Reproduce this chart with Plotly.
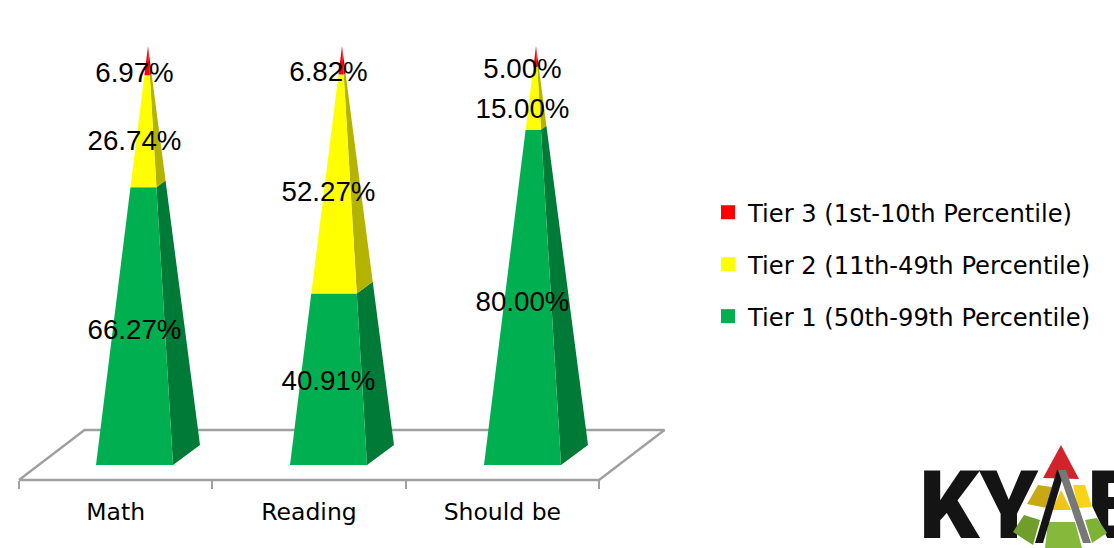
import plotly.graph_objects as go

# Chart values (percent of students per tier)
categories = ["Math", "Reading", "Should be"]
tier1 = [66.27, 40.91, 80.00]
tier2 = [26.74, 52.27, 15.00]
tier3 = [6.97, 6.82, 5.00]
tier_names = ["Tier 1 (50th-99th Percentile)", "Tier 2 (11th-49th Percentile)", "Tier 3 (1st-10th Percentile)"]
front_colors = ["#00B050", "#FFFF00", "#FF0000"]
side_colors = ["#007A37", "#B3B300", "#B30000"]

W, H = 1114, 548
AXIS_LEFT, AXIS_RIGHT = 19, 599     # pixel span of the category axis
AXIS_Y = 480                        # pixel row of the axis line
BASE_Y = 465                        # pixel row of the 0% level
PLOT_LEFT, PLOT_RIGHT, PLOT_BOTTOM = 10, 680, 490   # clip area, roomy enough for the floor
PX_PER_PCT = 4.19
PX_PER_CAT = (AXIS_RIGHT - AXIS_LEFT) / len(categories)


def px_x(p):
    return p / PX_PER_CAT


def px_y(p):
    return p / PX_PER_PCT


# Oblique projection of the square-based pyramids and the floor
face_width = px_x(77)
first_face = px_x(77)
face_step = px_x(194)
depth_x, depth_y = px_x(27), px_y(20)
floor_dx, floor_dy = px_x(65.5), px_y(50)
floor_front = px_y(BASE_Y - AXIS_Y)


def edge(a, b, t):
    return (a[0] + (b[0] - a[0]) * t, a[1] + (b[1] - a[1]) * t)


front_x, front_y, side_x, side_y = [[], [], []], [[], [], []], [[], [], []], [[], [], []]
label_x, label_y, label_text = [], [], []

for i in range(len(categories)):
    left = first_face + i * face_step
    right = left + face_width
    centre = (left + right) / 2
    fl, fr = (left, 0.0), (right, 0.0)
    br = (right + depth_x, depth_y)
    apex = (centre + depth_x / 2, 100.0)
    low = 0.0
    for k, series in enumerate([tier1, tier2, tier3]):
        value = series[i]
        high = low + value
        t0, t1 = low / 100, high / 100
        pts = [edge(fl, apex, t0), edge(fr, apex, t0), edge(fr, apex, t1), edge(fl, apex, t1), edge(fl, apex, t0)]
        front_x[k] += [p[0] for p in pts] + [None]
        front_y[k] += [p[1] for p in pts] + [None]
        pts = [edge(fr, apex, t0), edge(br, apex, t0), edge(br, apex, t1), edge(fr, apex, t1), edge(fr, apex, t0)]
        side_x[k] += [p[0] for p in pts] + [None]
        side_y[k] += [p[1] for p in pts] + [None]
        # Labels sit near the middle of each band, pulled down slightly by the perspective
        mid = (low + high) / 2
        label_x.append(centre)
        label_y.append(mid - px_y(1.5 + 13 * mid / 100))
        label_text.append(f"{value:.2f}%")
        low = high

fig = go.Figure()

# Floor of the 3D plot, closed along the front where the category axis runs
n_cat = len(categories)
fig.add_trace(go.Scatter(
    x=[0, floor_dx, n_cat + floor_dx, n_cat, 0],
    y=[floor_front, floor_front + floor_dy, floor_front + floor_dy, floor_front, floor_front],
    mode="lines", line=dict(color="#A0A0A0", width=2.4),
    showlegend=False, hoverinfo="skip",
))

for k in range(3):
    fig.add_trace(go.Scatter(
        x=side_x[k], y=side_y[k], mode="lines", fill="toself", fillcolor=side_colors[k],
        line=dict(width=0, color=side_colors[k]), showlegend=False, hoverinfo="skip",
    ))
for k in range(3):
    fig.add_trace(go.Scatter(
        x=front_x[k], y=front_y[k], mode="lines", fill="toself", fillcolor=front_colors[k],
        line=dict(width=0, color=front_colors[k]), showlegend=False, hoverinfo="skip",
    ))

fig.add_trace(go.Scatter(
    x=label_x, y=label_y, text=label_text, mode="text", textposition="middle center",
    textfont=dict(family="Liberation Sans", size=27.7, color="#000000"),
    cliponaxis=False, showlegend=False, hoverinfo="skip",
))

# Legend swatches, top entry first
for k in [2, 1, 0]:
    fig.add_trace(go.Scatter(
        x=[None], y=[None], mode="markers", name=tier_names[k], legendgroup=tier_names[k],
        marker=dict(symbol="square", size=14, color=front_colors[k]),
    ))

# KYAE logo in the lower right corner, on its own pixel-addressed subplot
logo_text = [("KY", 919, 514), ("E", 1087, 514)]
fig.add_trace(go.Scatter(
    x=[t[1] for t in logo_text], y=[t[2] for t in logo_text], text=[t[0] for t in logo_text],
    mode="text", textposition="middle right",
    textfont=dict(family="Roboto", size=94, color="#141414", weight=900),
    xaxis="x2", yaxis="y2", cliponaxis=False, showlegend=False, hoverinfo="skip",
))


def poly(points, color):
    path = "M" + " L".join(f"{x},{y}" for x, y in points) + " Z"
    return dict(type="path", path=path, xref="x2", yref="y2", fillcolor=color, line_width=0, layer="above")


logo_shapes = [
    poly([(1013, 548), (1061, 440), (1112, 548)], "#FFFFFF"),
    poly([(1061, 445), (1043, 478), (1079, 479)], "#D2232A"),
    poly([(1038, 485), (1052, 487), (1047, 508), (1027, 504)], "#C9A816"),
    poly([(1061, 490), (1052, 510), (1071, 510)], "#F0C419"),
    poly([(1073, 485), (1085, 485), (1092, 507), (1078, 508)], "#F7D417"),
    poly([(1024, 515), (1013, 532), (1033, 545), (1040, 520)], "#6F9E2D"),
    poly([(1048, 522), (1045, 548), (1082, 548), (1075, 522)], "#86B83B"),
    poly([(1085, 520), (1097, 518), (1107, 533), (1092, 543)], "#7FB234"),
    poly([(1057, 470), (1065, 470), (1043, 543), (1035, 543)], "#141414"),
    poly([(1058, 470), (1066, 470), (1091, 543), (1083, 543)], "#777777"),
]

fig.update_layout(
    width=W, height=H, margin=dict(l=0, r=0, t=0, b=0),
    paper_bgcolor="#FFFFFF", plot_bgcolor="rgba(0,0,0,0)",
    font=dict(family="DejaVu Sans", color="#000000"),
    shapes=logo_shapes,
    xaxis=dict(
        domain=[PLOT_LEFT / W, PLOT_RIGHT / W],
        range=[px_x(PLOT_LEFT - AXIS_LEFT), px_x(PLOT_RIGHT - AXIS_LEFT)],
        anchor="free", position=(H - AXIS_Y) / H,
        tickvals=[i + 0.5 for i in range(n_cat)], ticktext=categories,
        ticks="outside", ticklen=11, tickcolor="rgba(0,0,0,0)",
        tickfont=dict(family="DejaVu Sans", size=23.5, color="#000000"),
        showline=False, showgrid=False, zeroline=False,
        minor=dict(tickvals=list(range(n_cat + 1)), ticks="outside", ticklen=8,
                   tickwidth=2.4, tickcolor="#A0A0A0", showgrid=False),
        fixedrange=True,
    ),
    yaxis=dict(
        domain=[(H - PLOT_BOTTOM) / H, 1], range=[px_y(BASE_Y - PLOT_BOTTOM), px_y(BASE_Y)],
        visible=False, fixedrange=True,
    ),
    xaxis2=dict(domain=[0, 1], range=[0, W], visible=False, anchor="y2", fixedrange=True),
    yaxis2=dict(domain=[0, 1], range=[H, 0], visible=False, anchor="x2", fixedrange=True),
    legend=dict(
        x=708 / W, y=1 - 190 / H, xanchor="left", yanchor="top",
        font=dict(family="DejaVu Sans", size=24.2, color="#000000"),
        tracegroupgap=17.5, itemclick=False, itemdoubleclick=False, bgcolor="rgba(0,0,0,0)",
    ),
)

fig.write_html("out.html")
